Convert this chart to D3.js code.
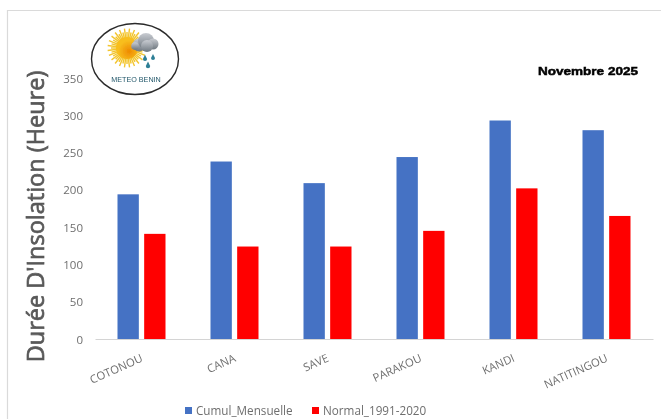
<!DOCTYPE html>
<html><head><meta charset="utf-8">
<script src="https://cdn.jsdelivr.net/npm/d3@7/dist/d3.min.js"></script>
<style>html,body{margin:0;padding:0;background:#fff}svg{display:block}</style>
</head><body><div id="c"></div>
<script>
const categories=["COTONOU","CANA","SAVE","PARAKOU","KANDI","NATITINGOU"];
const seriesNames=["Cumul_Mensuelle","Normal_1991-2020"];
const cumul=[194,238,209,244,293,280];
const normal=[141,124,124,145,202,165];
const yTicks=[0,50,100,150,200,250,300,350];
const colors=["#4472C4","#FF0000"];
const yTitle="Durée D'Insolation (Heure)";
const dateLabel="Novembre 2025";
const logoText="METEO BENIN";

const W=661,H=419;
const svg=d3.select("#c").append("svg").attr("width",W).attr("height",H);
const defs=svg.append("defs");
defs.append("filter").attr("id","soft").append("feGaussianBlur").attr("stdDeviation",0.4);
defs.append("filter").attr("id","soft2").append("feGaussianBlur").attr("stdDeviation",0.55);
const sunG=defs.append("radialGradient").attr("id","sunG").attr("cx","60%").attr("cy","65%");
sunG.append("stop").attr("offset","0%").attr("stop-color","#EE8A00");
sunG.append("stop").attr("offset","100%").attr("stop-color","#F8BE1E");
const cloudG=defs.append("linearGradient").attr("id","cloudG").attr("x1",0).attr("y1",0).attr("x2",0).attr("y2",1);
cloudG.append("stop").attr("offset","0%").attr("stop-color","#C9CCD2");
cloudG.append("stop").attr("offset","100%").attr("stop-color","#6F7880");

const root=svg.append("g").attr("filter","url(#soft)");
root.append("path").attr("d",`M7.5,${H}V10.5H${W}`).attr("fill","none").attr("stroke","#DADADA").attr("stroke-width",1.2);

const x=d3.scaleBand().domain(categories).range([95,653]);
const x1=d3.scaleBand().domain(seriesNames).range([22.5,70.5]).paddingInner(0.2);
const y=d3.scaleLinear().domain([0,350]).range([339,78]);

const values=[cumul,normal];
seriesNames.forEach((s,si)=>{
  root.append("g").selectAll("rect").data(categories).join("rect")
    .attr("x",d=>x(d)+x1(s))
    .attr("y",(d,i)=>y(values[si][i]))
    .attr("width",x1.bandwidth())
    .attr("height",(d,i)=>y(0)-y(values[si][i]))
    .attr("fill",colors[si]);
});

const yAxis=d3.axisLeft(y).tickValues(yTicks).tickSize(0).tickPadding(0);
const gy=root.append("g").attr("transform","translate(83,0)").call(yAxis);
gy.select(".domain").remove();
gy.selectAll("text").attr("font-family","'Open Sans',sans-serif").attr("font-size",11.5).attr("fill","#6E6E6E").attr("dy","0.35em");

const xAxis=d3.axisBottom(x).tickSize(0).tickPadding(0);
const gx=root.append("g").attr("transform","translate(0,339)").call(xAxis);
gx.select(".domain").attr("stroke","#D4D4D4").attr("stroke-width",1);
gx.selectAll("text")
  .attr("font-family","'Open Sans',sans-serif").attr("font-size",11.3).attr("fill","#6E6E6E")
  .attr("text-anchor","end").attr("dy",0)
  .attr("transform","translate(2,22) rotate(-24)");

root.append("text").attr("transform","translate(44,216.5) rotate(-90)")
  .attr("text-anchor","middle").attr("font-family","'Open Sans',sans-serif")
  .attr("font-size",23.5).attr("fill","#595959")
  .attr("stroke","#595959").attr("stroke-width",0.7).text(yTitle);

root.append("text").attr("x",538).attr("y",75)
  .attr("textLength",100).attr("lengthAdjust","spacingAndGlyphs")
  .attr("font-family","'Liberation Sans',sans-serif").attr("font-size",11.5).attr("font-weight",700)
  .attr("stroke","#000").attr("stroke-width",0.5).attr("fill","#000").text(dateLabel);

const lg=root.append("g");
const legendX=[185,312];
seriesNames.forEach((s,i)=>{
  lg.append("rect").attr("x",legendX[i]).attr("y",407).attr("width",7).attr("height",7).attr("fill",colors[i]);
  lg.append("text").attr("x",legendX[i]+11).attr("y",414.5)
    .attr("font-family","'Open Sans',sans-serif").attr("font-size",11.7).attr("fill","#6E6E6E").text(s);
});

const logo=svg.append("g").attr("filter","url(#soft2)");
logo.append("ellipse").attr("cx",135).attr("cy",59).attr("rx",43.5).attr("ry",35.5)
  .attr("fill","#fff").attr("stroke","#2A2A2A").attr("stroke-width",1.4);
const sun=logo.append("g").attr("transform","translate(127,48)");
d3.range(48).forEach(i=>{
  const a=i*Math.PI/24, r=i%2?19.5:16;
  sun.append("line").attr("x1",0).attr("y1",0).attr("x2",r*Math.cos(a)).attr("y2",r*Math.sin(a))
    .attr("stroke","#F3C52E").attr("stroke-width",1.4);
});
sun.append("circle").attr("r",11).attr("fill","url(#sunG)");
const cloud=logo.append("g");
[[139,45,6.5],[146,41,8],[153,44,5.5],[147,46,6],[135,46,3.8]].forEach(c=>
  cloud.append("circle").attr("cx",c[0]).attr("cy",c[1]).attr("r",c[2]).attr("fill","url(#cloudG)"));
[[145,59,2.1],[148,66,2.2],[153,58,2]].forEach(c=>{
  logo.append("path").attr("d",`M${c[0]},${c[1]-c[2]*2}L${c[0]+c[2]},${c[1]}A${c[2]},${c[2]} 0 1 1 ${c[0]-c[2]},${c[1]}Z`).attr("fill","#2F7F96");
});
logo.append("text").attr("x",136).attr("y",82).attr("text-anchor","middle")
  .attr("font-family","'Liberation Sans',sans-serif").attr("font-size",7.2).attr("fill","#1F5568").text(logoText);
</script></body></html>
